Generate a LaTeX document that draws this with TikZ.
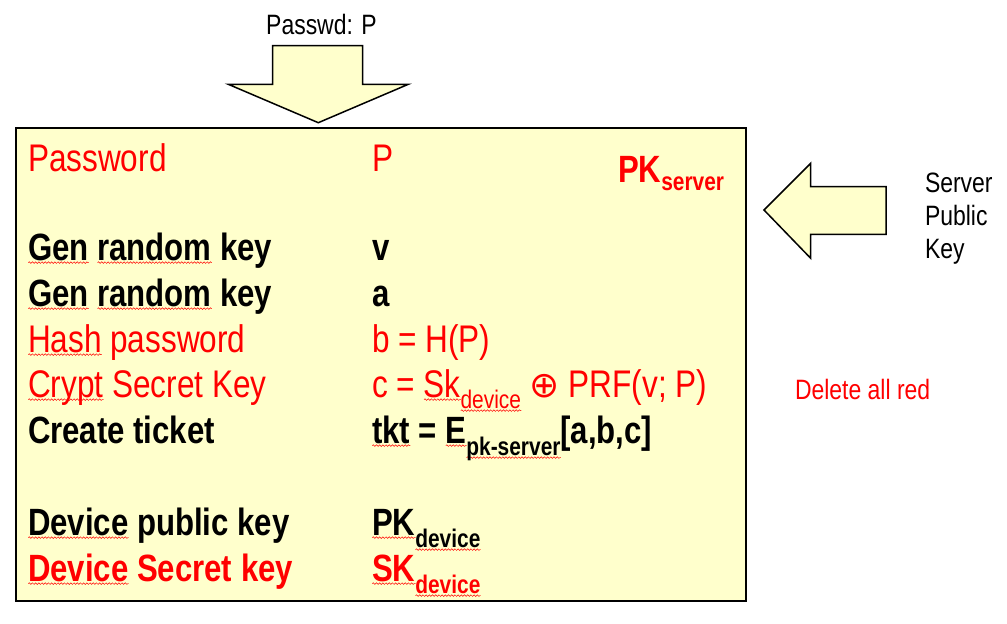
\documentclass[tikz,border=0pt]{standalone}
\usepackage{fontspec}
\setmainfont[FakeStretch=0.82]{Liberation Sans}
\newfontfamily\symfont{DejaVu Sans}
\usetikzlibrary{decorations.pathmorphing}
\definecolor{boxfill}{HTML}{FFFFCC}
\definecolor{pred}{HTML}{FF0000}
\tikzset{
  squig/.style={draw=pred, line width=0.5pt, decorate,
    decoration={snake, amplitude=0.8pt, segment length=3.2pt}},
  main/.style={anchor=base west, inner sep=0pt, outer sep=0pt,
    font=\fontsize{38.5}{38.5}\selectfont},
  mainb/.style={main, font=\fontsize{38}{38}\selectfont\bfseries},
  label/.style={anchor=base west, inner sep=0pt, outer sep=0pt,
    font=\fontsize{28}{28}\selectfont},
  shapeline/.style={draw=black, line width=1.5pt, fill=boxfill, line join=miter},
}
\newlength\sqlen
\newcommand\sq[1]{\settowidth\sqlen{#1}\rlap{\tikz[baseline=0pt]\draw[squig](0pt,-2.6pt)--(\sqlen,-2.6pt);}#1}
\newcommand\lowsub[2][11pt]{\raisebox{-#1}{\fontsize{25.5}{25.5}\selectfont #2}}
\begin{document}
\begin{tikzpicture}[x=1pt,y=-1pt]
\useasboundingbox (0,0) rectangle (1007,624);
% main box
\draw[draw=black, line width=2pt, fill=boxfill] (16,128) rectangle (746,601);
% top arrow
\draw[shapeline] (272.7,45.7) -- (362.7,45.7) -- (362.7,84.3) -- (408.3,84.3)
  -- (318.3,122.7) -- (228.3,84.3) -- (272.7,84.3) -- cycle;
% right arrow
\draw[shapeline] (764,210) -- (810.7,163.3) -- (810.7,186.7) -- (886,186.7)
  -- (886,234.3) -- (810.7,234.3) -- (810.7,258.3) -- cycle;
% outside labels
\node[label, anchor=base] (pwdlbl) at (321.5,34.3) {Passwd: P};
\node[label] (srv1) at (925,192.3) {Server};
\node[label] (srv2) at (925,225.5) {Public};
\node[label] (srv3) at (925,258.5) {Key};
\node[label, text=pred] (del) at (795,399.3) {Delete all red};
% box contents
\node[main, text=pred] (pw) at (28,171) {Password};
\node[main, text=pred] (pwv) at (372,171) {P};
\node[mainb, text=pred] (pks) at (618,182) {PK\lowsub[8pt]{server}};
\node[mainb] (g1) at (28,260) {\sq{Gen} \sq{random} key};
\node[mainb] (g1v) at (372,260) {v};
\node[mainb] (g2) at (28,306) {\sq{Gen} \sq{random} key};
\node[mainb] (g2v) at (372,306) {a};
\node[main, text=pred] (hp) at (28,352) {\sq{Hash} password};
\node[main, text=pred] (hpv) at (372,352) {b = H(P)};
\node[main, text=pred] (cs) at (28,397) {\sq{Crypt} Secret Key};
\node[main, text=pred] (csv) at (372,397) {c = \sq{Sk}\lowsub{\sq{device}} {\symfont\fontsize{36}{36}\selectfont ⊕} PRF(v; P)};
\node[mainb] (ct) at (28,443) {Create ticket};
\node[mainb] (ctv) at (372,443) {\sq{tkt} = \sq{E}\lowsub[12pt]{\sq{pk-server}}[a,b,c]};
\node[mainb] (dp) at (28,535) {\sq{Device} public key};
\node[mainb] (dpv) at (372,535) {\sq{PK}\lowsub[12pt]{\sq{device}}};
\node[mainb, text=pred] (ds) at (28,581) {\sq{Device} Secret key};
\node[mainb, text=pred] (dsv) at (372,581) {\sq{SK}\lowsub[12pt]{\sq{device}}};
\end{tikzpicture}
\end{document}
